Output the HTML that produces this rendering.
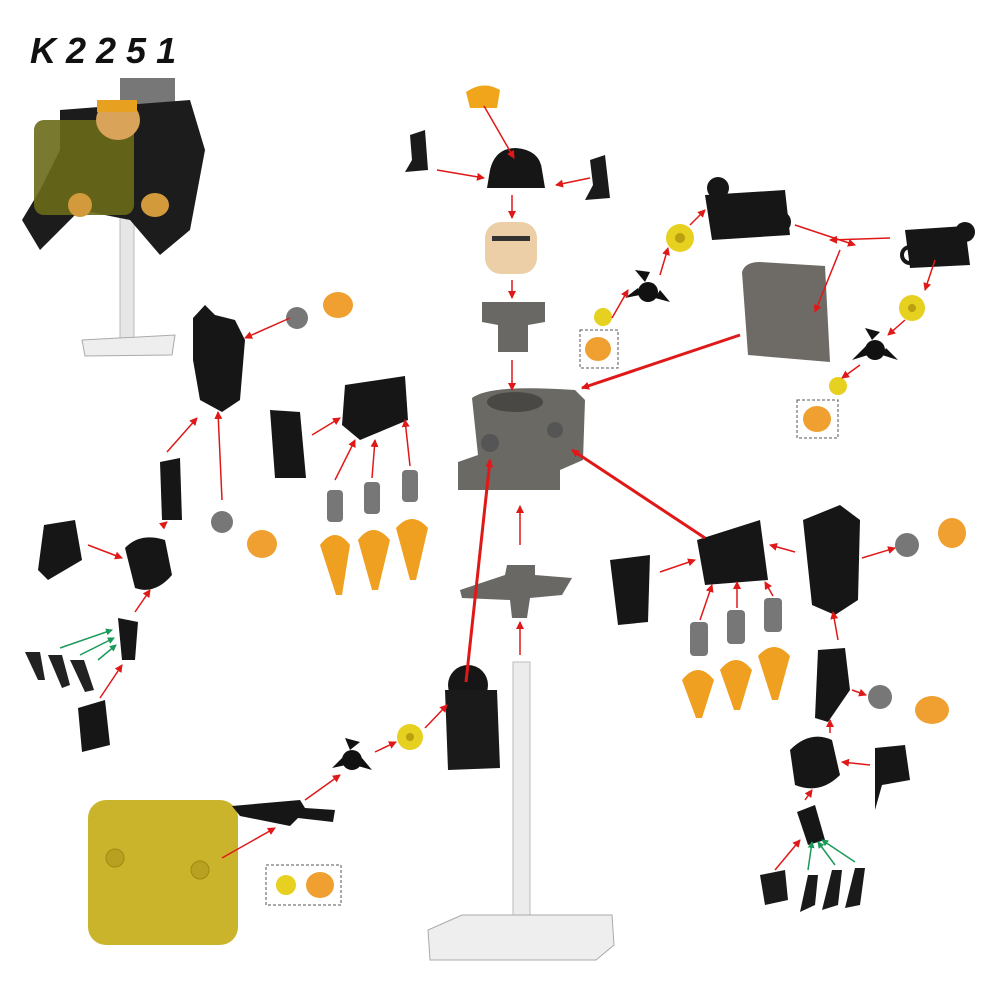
<!DOCTYPE html>
<html><head><meta charset="utf-8"><style>
html,body{margin:0;padding:0;background:#fff;width:1000px;height:1000px;overflow:hidden}
svg{display:block}
</style></head><body>
<svg width="1000" height="1000" viewBox="0 0 1000 1000" xmlns="http://www.w3.org/2000/svg">
<defs>
<marker id="a" markerWidth="8" markerHeight="8" refX="7" refY="4" orient="auto" markerUnits="userSpaceOnUse"><path d="M0,0 L8,4 L0,8 z" fill="#e01818"/></marker>
<marker id="g" markerWidth="7" markerHeight="7" refX="6" refY="3.5" orient="auto" markerUnits="userSpaceOnUse"><path d="M0,0 L7,3.5 L0,7 z" fill="#1a9a5a"/></marker>
</defs>
<text x="30" y="63" font-family="Liberation Sans, sans-serif" font-size="36" font-weight="bold" font-style="italic" letter-spacing="10" fill="#111">K2251</text>

<rect x="120" y="210" width="14" height="130" fill="#e6e6e6" stroke="#bbb"/>
<path d="M82,340 L175,335 L172,355 L85,356 z" fill="#eee" stroke="#aaa"/>
<rect x="120" y="78" width="55" height="40" fill="#777"/>
<path d="M60,110 L190,100 L205,150 L190,230 L160,255 L130,220 L80,210 L40,250 L22,220 L40,190 L60,150 z" fill="#1c1c1c"/>
<rect x="34" y="120" width="100" height="95" rx="10" fill="#6a6a1a" opacity="0.9"/>
<ellipse cx="118" cy="120" rx="22" ry="20" fill="#d9a35a"/>
<rect x="97" y="100" width="40" height="12" fill="#e8a020"/>
<ellipse cx="155" cy="205" rx="14" ry="12" fill="#d29a3a"/>
<ellipse cx="80" cy="205" rx="12" ry="12" fill="#d29a3a"/>

<path d="M466,92 Q483,80 500,90 L497,108 L470,108 z" fill="#f0a51a"/>
<path d="M490,170 Q495,148 516,148 Q540,150 542,170 L545,188 L487,188 z" fill="#161616"/>
<path d="M410,135 L425,130 L428,170 L405,172 L412,160 z" fill="#1a1a1a"/>
<path d="M590,160 L605,155 L610,198 L585,200 L593,185 z" fill="#1a1a1a"/>
<rect x="485" y="222" width="52" height="52" rx="16" fill="#eccfa6"/>
<rect x="492" y="236" width="38" height="5" fill="#333"/>
<path d="M482,302 L545,302 L545,322 L528,325 L528,352 L498,352 L498,325 L482,322 z" fill="#6a6864"/>
<path d="M472,398 Q490,384 575,390 L585,400 L583,460 L560,470 L560,490 L458,490 L458,462 L478,455 z" fill="#6b6964"/>
<ellipse cx="515" cy="402" rx="28" ry="10" fill="#4a4844"/>
<circle cx="490" cy="443" r="9" fill="#555"/>
<circle cx="555" cy="430" r="8" fill="#555"/>
<path d="M460,590 L505,575 L507,565 L535,565 L535,575 L572,578 L562,595 L530,598 L527,618 L512,618 L510,600 L462,598 z" fill="#6a6864"/>
<rect x="513" y="662" width="17" height="260" fill="#ececec" stroke="#bbb"/>
<path d="M428,930 L462,915 L612,915 L614,945 L596,960 L430,960 z" fill="#eeeeee" stroke="#aaa"/>

<path d="M705,195 L785,190 L790,235 L712,240 z" fill="#161616"/>
<circle cx="718" cy="188" r="11" fill="#161616"/>
<circle cx="780" cy="222" r="9" fill="none" stroke="#161616" stroke-width="4"/>
<path d="M905,230 L965,226 L970,265 L910,268 z" fill="#161616"/>
<circle cx="965" cy="232" r="10" fill="#161616"/>
<circle cx="910" cy="255" r="8" fill="none" stroke="#161616" stroke-width="4"/>
<path d="M742,272 Q745,262 760,262 L825,266 L830,362 L748,355 z" fill="#6e6b66"/>
<circle cx="680" cy="238" r="14" fill="#e6d020"/><circle cx="680" cy="238" r="5" fill="#b8a010"/>
<circle cx="603" cy="317" r="9" fill="#e6d020"/>
<circle cx="912" cy="308" r="13" fill="#e6d020"/><circle cx="912" cy="308" r="4" fill="#b8a010"/>
<circle cx="838" cy="386" r="9" fill="#e6d020"/>
<g fill="#111"><circle cx="648" cy="292" r="10"/><path d="M645,282 L635,270 L650,272z M655,298 L670,302 L660,290z M640,295 L625,298 L638,288z"/></g>
<g fill="#111"><circle cx="875" cy="350" r="10"/><path d="M872,340 L865,328 L880,332z M882,355 L898,360 L886,348z M868,355 L852,360 L866,346z"/></g>
<g fill="none" stroke="#555" stroke-dasharray="3,2"><rect x="580" y="330" width="38" height="38"/><rect x="797" y="400" width="41" height="38"/><rect x="266" y="865" width="75" height="40"/></g>
<g fill="#f0a030"><ellipse cx="598" cy="349" rx="13" ry="12"/><ellipse cx="817" cy="419" rx="14" ry="13"/><circle cx="286" cy="885" r="10" fill="#e8d020"/><ellipse cx="320" cy="885" rx="14" ry="13"/></g>

<path d="M193,318 L205,305 L215,315 L235,320 L245,340 L240,400 L222,412 L200,400 L193,360 z" fill="#161616"/>
<circle cx="297" cy="318" r="11" fill="#777"/>
<ellipse cx="338" cy="305" rx="15" ry="13" fill="#f0a030"/>
<path d="M345,385 L405,376 L408,420 L360,440 L342,425 z" fill="#161616"/>
<path d="M270,410 L300,412 L306,478 L275,478 z" fill="#161616"/>
<g fill="#777"><rect x="327" y="490" width="16" height="32" rx="4"/><rect x="364" y="482" width="16" height="32" rx="4"/><rect x="402" y="470" width="16" height="32" rx="4"/></g>
<g fill="#f0a020"><path d="M320,545 Q335,525 350,545 L342,595 L336,595 z"/><path d="M358,540 Q373,520 390,540 L378,590 L372,590 z"/><path d="M396,528 Q412,510 428,528 L416,580 L410,580 z"/></g>
<path d="M160,462 L180,458 L182,520 L162,520 z" fill="#161616"/>
<path d="M125,548 Q140,532 165,540 L172,575 Q155,595 135,588 Z" fill="#161616"/>
<path d="M44,525 L75,520 L82,560 L48,580 L38,570 z" fill="#161616"/>
<path d="M118,618 L138,622 L135,660 L122,660 z" fill="#161616"/>
<g fill="#222"><path d="M25,652 L40,652 L45,680 L38,680z"/><path d="M48,655 L62,655 L70,685 L62,688z"/><path d="M70,660 L84,660 L94,690 L85,692z"/></g>
<path d="M78,708 L105,700 L110,745 L82,752 z" fill="#161616"/>
<circle cx="222" cy="522" r="11" fill="#777"/>
<ellipse cx="262" cy="544" rx="15" ry="14" fill="#f0a030"/>

<path d="M697,540 L760,520 L768,580 L705,585 z" fill="#161616"/>
<path d="M610,560 L650,555 L648,622 L618,625 z" fill="#161616"/>
<path d="M803,520 L840,505 L860,520 L858,600 L835,615 L812,605 z" fill="#161616"/>
<circle cx="907" cy="545" r="12" fill="#777"/>
<ellipse cx="952" cy="533" rx="14" ry="15" fill="#f0a030"/>
<g fill="#777"><rect x="690" y="622" width="18" height="34" rx="4"/><rect x="727" y="610" width="18" height="34" rx="4"/><rect x="764" y="598" width="18" height="34" rx="4"/></g>
<g fill="#f0a020"><path d="M682,680 Q698,660 714,680 L702,718 L696,718 z"/><path d="M720,670 Q736,650 752,670 L740,710 L734,710 z"/><path d="M758,656 Q774,638 790,656 L778,700 L772,700 z"/></g>
<path d="M818,650 L845,648 L850,690 L828,722 L815,718 z" fill="#161616"/>
<circle cx="880" cy="697" r="12" fill="#777"/>
<ellipse cx="932" cy="710" rx="17" ry="14" fill="#f0a030"/>
<path d="M790,750 Q810,730 832,740 L840,775 Q820,795 795,785 z" fill="#161616"/>
<path d="M875,748 L905,745 L910,780 L882,785 L875,810 z" fill="#161616"/>
<path d="M797,812 L815,805 L825,840 L808,845 z" fill="#161616"/>
<g fill="#1a1a1a"><path d="M760,875 L785,870 L788,900 L765,905z"/><path d="M808,875 L818,875 L815,905 L800,912z"/><path d="M832,870 L842,870 L838,905 L822,910z"/><path d="M855,868 L865,868 L860,905 L845,908z"/></g>

<rect x="88" y="800" width="150" height="145" rx="18" fill="#c9b42c"/>
<circle cx="115" cy="858" r="9" fill="#b8a020" stroke="#a08a10"/>
<circle cx="200" cy="870" r="9" fill="#b8a020" stroke="#a08a10"/>
<path d="M232,806 L300,800 L305,808 L335,810 L333,822 L298,818 L290,826 L240,816 z" fill="#161616"/>
<g fill="#111"><circle cx="352" cy="760" r="10"/><path d="M350,750 L345,738 L360,742z M358,766 L372,770 L362,758z M346,765 L332,768 L344,756z"/></g>
<circle cx="410" cy="737" r="13" fill="#e6d020"/><circle cx="410" cy="737" r="4" fill="#b8a010"/>
<circle cx="468" cy="685" r="20" fill="#161616"/>
<path d="M445,690 L497,690 L500,768 L448,770 z" fill="#1a1a1a"/>

<g stroke="#e01818" stroke-width="1.5" fill="none" marker-end="url(#a)">
<line x1="484" y1="106" x2="514" y2="158"/>
<line x1="437" y1="170" x2="484" y2="178"/>
<line x1="590" y1="178" x2="556" y2="185"/>
<line x1="512" y1="195" x2="512" y2="218"/>
<line x1="512" y1="280" x2="512" y2="298"/>
<line x1="512" y1="360" x2="512" y2="390"/>
<line x1="520" y1="545" x2="520" y2="506"/>
<line x1="520" y1="655" x2="520" y2="622"/>
<line x1="612" y1="318" x2="628" y2="290"/>
<line x1="660" y1="275" x2="668" y2="248"/>
<line x1="690" y1="225" x2="705" y2="210"/>
<line x1="795" y1="225" x2="855" y2="245"/>
<line x1="890" y1="238" x2="830" y2="240"/>
<line x1="840" y1="250" x2="815" y2="312"/>
<line x1="935" y1="260" x2="925" y2="290"/>
<line x1="905" y1="320" x2="888" y2="335"/>
<line x1="860" y1="365" x2="842" y2="378"/>
<line x1="290" y1="318" x2="245" y2="338"/>
<line x1="335" y1="480" x2="355" y2="440"/>
<line x1="372" y1="478" x2="375" y2="440"/>
<line x1="410" y1="466" x2="405" y2="420"/>
<line x1="312" y1="435" x2="340" y2="418"/>
<line x1="222" y1="500" x2="218" y2="412"/>
<line x1="167" y1="452" x2="197" y2="418"/>
<line x1="162" y1="526" x2="167" y2="522"/>
<line x1="88" y1="545" x2="122" y2="558"/>
<line x1="135" y1="612" x2="150" y2="590"/>
<line x1="100" y1="698" x2="122" y2="665"/>
<line x1="660" y1="572" x2="695" y2="560"/>
<line x1="700" y1="620" x2="712" y2="585"/>
<line x1="737" y1="608" x2="737" y2="582"/>
<line x1="773" y1="596" x2="765" y2="582"/>
<line x1="795" y1="552" x2="770" y2="545"/>
<line x1="862" y1="558" x2="895" y2="548"/>
<line x1="838" y1="640" x2="833" y2="612"/>
<line x1="830" y1="733" x2="830" y2="720"/>
<line x1="870" y1="765" x2="842" y2="762"/>
<line x1="852" y1="690" x2="866" y2="695"/>
<line x1="805" y1="800" x2="812" y2="790"/>
<line x1="775" y1="870" x2="800" y2="840"/>
<line x1="222" y1="858" x2="275" y2="828"/>
<line x1="305" y1="800" x2="340" y2="775"/>
<line x1="375" y1="752" x2="396" y2="742"/>
<line x1="425" y1="728" x2="447" y2="705"/>
</g>
<g stroke="#e01818" stroke-width="3" fill="none" marker-end="url(#a)">
<line x1="740" y1="335" x2="582" y2="388"/>
<line x1="705" y1="538" x2="572" y2="450"/>
<line x1="466" y1="682" x2="490" y2="460"/>
</g>
<g stroke="#1a9a5a" stroke-width="1.5" marker-end="url(#g)">
<line x1="60" y1="648" x2="112" y2="630"/>
<line x1="80" y1="655" x2="114" y2="638"/>
<line x1="98" y1="660" x2="116" y2="645"/>
<line x1="808" y1="870" x2="812" y2="842"/>
<line x1="835" y1="865" x2="818" y2="842"/>
<line x1="855" y1="862" x2="822" y2="840"/>
</g>
</svg>
</body></html>
